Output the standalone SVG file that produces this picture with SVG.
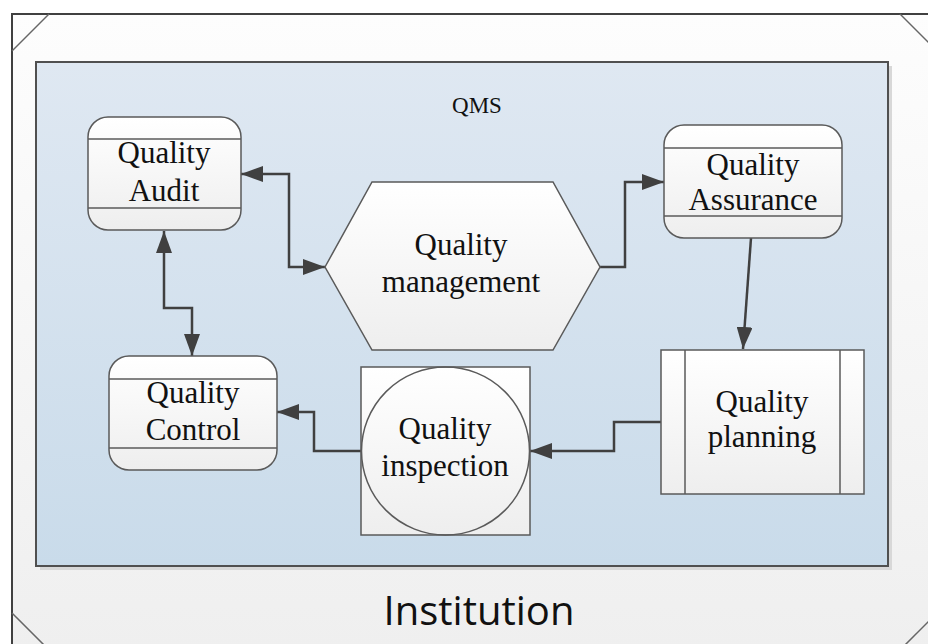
<svg xmlns="http://www.w3.org/2000/svg" width="928" height="644" viewBox="0 0 928 644">
  <defs>
    <linearGradient id="frameFill" x1="0" y1="0" x2="0" y2="1">
      <stop offset="0" stop-color="#fdfdfd"/>
      <stop offset="1" stop-color="#efefef"/>
    </linearGradient>
    <linearGradient id="qmsFill" x1="0" y1="0" x2="0" y2="1">
      <stop offset="0" stop-color="#dfe8f2"/>
      <stop offset="1" stop-color="#c9dbea"/>
    </linearGradient>
    <linearGradient id="nodeFill" x1="0" y1="0" x2="0" y2="1">
      <stop offset="0" stop-color="#ffffff"/>
      <stop offset="1" stop-color="#eeeeee"/>
    </linearGradient>
    <marker id="arrow" viewBox="0 0 22 16" refX="22" refY="8" markerWidth="22" markerHeight="16" markerUnits="userSpaceOnUse" orient="auto-start-reverse">
      <path d="M0,0 L22,8 L0,16 Z" fill="#404040"/>
    </marker>
  </defs>
  <style>
    .node { fill: url(#nodeFill); stroke: #5a5a5a; stroke-width: 1.5; }
    .sep { fill: none; stroke: #5a5a5a; stroke-width: 1.5; }
    .label { font-family: "Liberation Serif", "Times New Roman", serif; font-size: 31px; fill: #111; text-anchor: middle; }
    .conn { fill: none; stroke: #404040; stroke-width: 2.5; }
    .bevel { fill: none; stroke: #666; stroke-width: 1.5; }
  </style>

  <!-- Institution frame (bevelled container) -->
  <g id="institution">
    <rect x="12" y="14" width="925" height="636" fill="url(#frameFill)" stroke="#404040" stroke-width="2"/>
    <line class="bevel" x1="49" y1="14" x2="12" y2="51"/>
    <line class="bevel" x1="900" y1="14" x2="937" y2="51"/>
    <line class="bevel" x1="12" y1="613" x2="49" y2="650"/>
    <line class="bevel" x1="937" y1="613" x2="900" y2="650"/>
    <text x="479" y="625" font-family="'Open Sans', 'Liberation Sans', sans-serif" font-size="40" fill="#111" text-anchor="middle">Institution</text>
  </g>

  <!-- QMS container -->
  <g id="qms">
    <rect x="40" y="66" width="852" height="504" fill="#d8d8d8"/>
    <rect x="36" y="62" width="852" height="504" fill="url(#qmsFill)" stroke="#505050" stroke-width="2"/>
    <text x="477" y="113" font-family="'Liberation Serif', 'Times New Roman', serif" font-size="23" fill="#111" text-anchor="middle">QMS</text>
  </g>

  <!-- Connectors -->
  <g id="connectors">
    <path class="conn" d="M241,174 H289 V267 H325" marker-start="url(#arrow)" marker-end="url(#arrow)"/>
    <path class="conn" d="M600,267 H625 V182 H664" marker-end="url(#arrow)"/>
    <path class="conn" d="M751,238 L743,349" marker-end="url(#arrow)"/>
    <path class="conn" d="M661,422 H614 V451 H530" marker-end="url(#arrow)"/>
    <path class="conn" d="M361,451 H314 V412 H277" marker-end="url(#arrow)"/>
    <path class="conn" d="M164,231 V308 H192 V356" marker-start="url(#arrow)" marker-end="url(#arrow)"/>
  </g>

  <!-- Quality Audit -->
  <g id="quality-audit">
    <rect class="node" x="88" y="117" width="153" height="113" rx="20" ry="20"/>
    <line class="sep" x1="88" y1="139" x2="241" y2="139"/>
    <line class="sep" x1="88" y1="208" x2="241" y2="208"/>
    <text class="label" x="164" y="163">Quality</text>
    <text class="label" x="164" y="201">Audit</text>
  </g>

  <!-- Quality management -->
  <g id="quality-management">
    <polygon class="node" points="325,267 372,182 553,182 600,267 553,350 372,350"/>
    <text class="label" x="461" y="255">Quality</text>
    <text class="label" x="461" y="292">management</text>
  </g>

  <!-- Quality Assurance -->
  <g id="quality-assurance">
    <rect class="node" x="664" y="125" width="178" height="113" rx="20" ry="20"/>
    <line class="sep" x1="664" y1="148" x2="842" y2="148"/>
    <line class="sep" x1="664" y1="216" x2="842" y2="216"/>
    <text class="label" x="753" y="175">Quality</text>
    <text class="label" x="753" y="210">Assurance</text>
  </g>

  <!-- Quality planning -->
  <g id="quality-planning">
    <rect class="node" x="661" y="350" width="203" height="144"/>
    <line class="sep" x1="685" y1="350" x2="685" y2="494"/>
    <line class="sep" x1="840" y1="350" x2="840" y2="494"/>
    <text class="label" x="762" y="412">Quality</text>
    <text class="label" x="762" y="447">planning</text>
  </g>

  <!-- Quality inspection -->
  <g id="quality-inspection">
    <rect class="node" x="361" y="367" width="169" height="168"/>
    <circle cx="445.5" cy="451" r="84" fill="none" stroke="#5a5a5a" stroke-width="1.5"/>
    <text class="label" x="445" y="439">Quality</text>
    <text class="label" x="445" y="476">inspection</text>
  </g>

  <!-- Quality Control -->
  <g id="quality-control">
    <rect class="node" x="109" y="356" width="168" height="114" rx="20" ry="20"/>
    <line class="sep" x1="109" y1="379" x2="277" y2="379"/>
    <line class="sep" x1="109" y1="448" x2="277" y2="448"/>
    <text class="label" x="193" y="403">Quality</text>
    <text class="label" x="193" y="440">Control</text>
  </g>
</svg>
